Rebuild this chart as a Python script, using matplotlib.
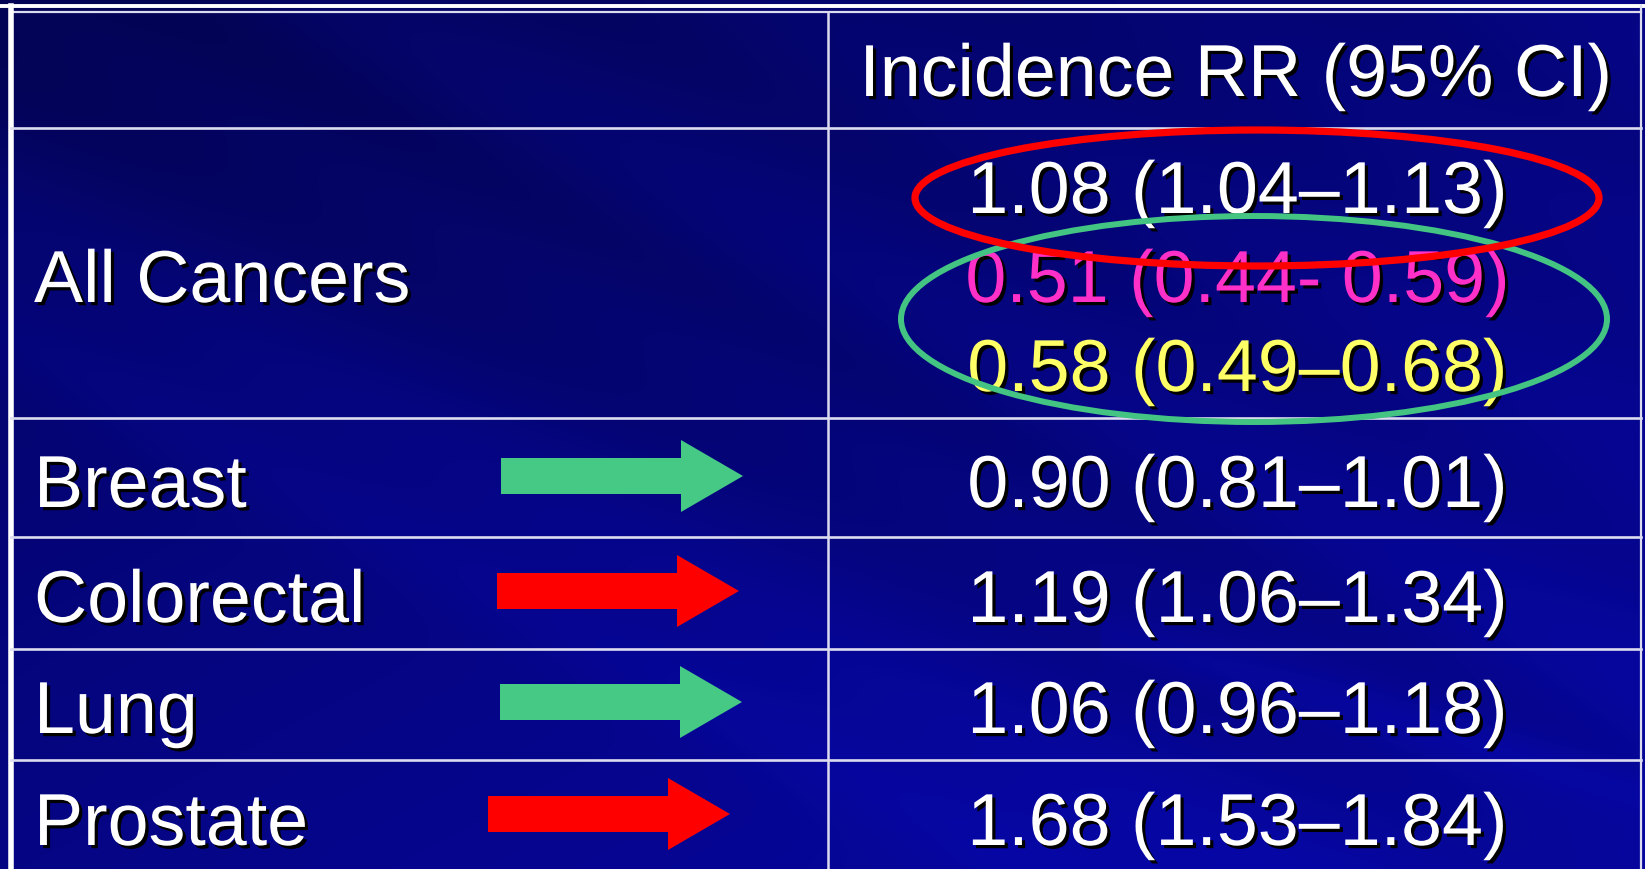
import matplotlib
matplotlib.use("Agg")
import matplotlib.pyplot as plt
import matplotlib.patheffects as pe
from matplotlib.patches import Ellipse
import numpy as np

# table content
header = "Incidence RR (95% CI)"
sites = ["All Cancers", "Breast", "Colorectal", "Lung", "Prostate"]
all_rr = [1.08, 0.51, 0.58]
all_lo = [1.04, 0.44, 0.49]
all_hi = [1.13, 0.59, 0.68]
all_sep = ["\u2013", "- ", "\u2013"]
all_colors = ["white", "#ff30c8", "#ffff66"]
rr = [0.90, 1.19, 1.06, 1.68]
lo = [0.81, 1.06, 0.96, 1.53]
hi = [1.01, 1.34, 1.18, 1.84]
arrow_colors = ["#46c985", "#ff0000", "#46c985", "#ff0000"]

W, H = 1645, 869
fig = plt.figure(figsize=(W / 100, H / 100), dpi=100)
ax = fig.add_axes([0, 0, 1, 1])
ax.set_xlim(0, W)
ax.set_ylim(H, 0)
ax.axis("off")

# navy background with diagonal streaks
yy, xx = np.mgrid[0:H, 0:W]
base = 0.38 + 0.14 * (xx / W) + 0.14 * (yy / H)
t = yy - 0.52 * xx
bands = [(-80, 60, -0.06), (60, 90, -0.05), (220, 70, 0.03), (-300, 80, -0.05),
         (-520, 90, -0.04), (330, 50, 0.04), (-700, 70, -0.04)]
for off, wid, dv in bands:
    base = base + dv * np.exp(-((t - off) / wid) ** 2)
t2 = yy - 0.3 * xx
base = base + 0.05 * np.exp(-((t2 - 300) / 25) ** 2) * (xx > 1100)
blue = np.clip(base, 0, 1)
img = np.dstack([blue * 0.04, blue * 0.04, blue])
ax.imshow(img, extent=[0, W, H, 0], aspect="auto", zorder=0)

# grid
lc = "#dcdcf0"
col_x = 828
row_y = [128, 418, 537, 649, 760]
ax.plot([0, W], [6, 6], color="white", lw=2.8, zorder=1)
ax.plot([11, W - 4], [12, 12], color=lc, lw=1.6, zorder=1)
ax.plot([11, 11], [6, H], color="white", lw=4, zorder=1)
ax.plot([W - 4, W - 4], [6, H], color=lc, lw=1.6, zorder=1)
ax.plot([col_x, col_x], [12, H], color=lc, lw=1.8, zorder=1)
for y in row_y:
    ax.plot([11, W - 4], [y, y], color=lc, lw=1.9, zorder=1)

fx = [pe.SimplePatchShadow(offset=(2.3, -2.3), shadow_rgbFace="black", alpha=1.0), pe.Normal()]
font = dict(family=["Liberation Sans", "DejaVu Sans"], fontsize=53, path_effects=fx, zorder=3)

ax.text(1236, 96, header, ha="center", va="baseline", color="white", **font)

# All Cancers row
ax.text(34, 302, sites[0], ha="left", va="baseline", color="white", **font)
for i, base_y in enumerate([213, 302, 391]):
    s = f"{all_rr[i]:.2f} ({all_lo[i]:.2f}{all_sep[i]}{all_hi[i]:.2f})"
    ax.text(1238, base_y, s, ha="center", va="baseline", color=all_colors[i], **font)

# other rows
baselines = [507, 622, 733, 845]
arrow_x = [501, 497, 500, 488]
for i, site in enumerate(sites[1:]):
    yb = baselines[i]
    ax.text(34, yb, site, ha="left", va="baseline", color="white", **font)
    s = f"{rr[i]:.2f} ({lo[i]:.2f}\u2013{hi[i]:.2f})"
    ax.text(1238, yb, s, ha="center", va="baseline", color="white", **font)
    yc = yb - 31
    ax.arrow(arrow_x[i], yc, 242, 0, width=36, head_width=72, head_length=62,
             length_includes_head=True, color=arrow_colors[i], lw=0, zorder=2)

# highlight ellipses
ax.add_patch(Ellipse((1254, 319), 706, 206, fill=False, ec="#44c482", lw=4.3, zorder=4))
ax.add_patch(Ellipse((1257, 198), 684, 136, fill=False, ec="#ff0000", lw=5.2, zorder=5))

fig.savefig("out.png", dpi=100, facecolor="#000060")
